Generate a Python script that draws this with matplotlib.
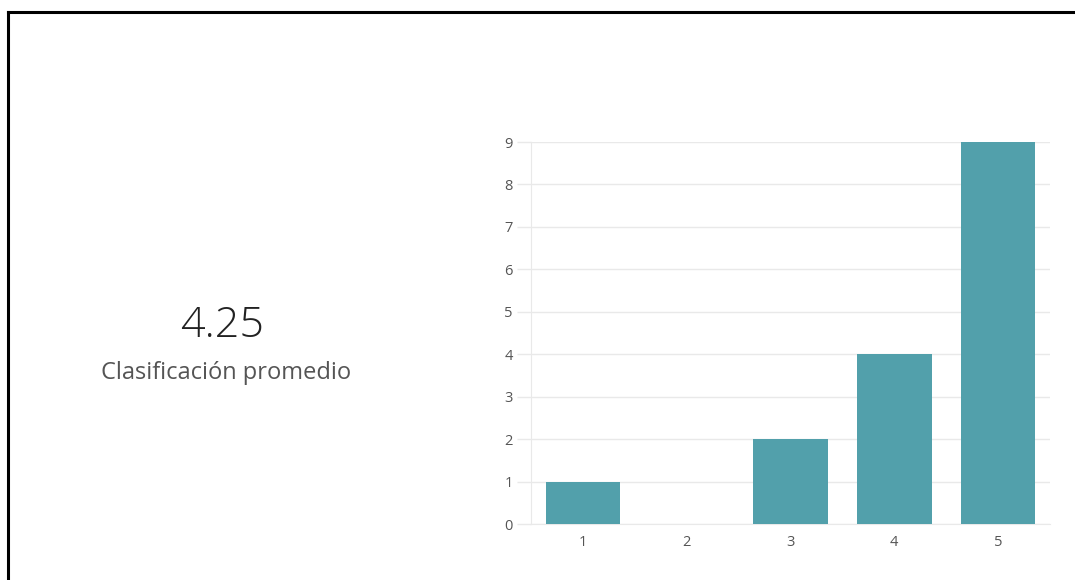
# Rating distribution chart with average score on the left
import matplotlib
matplotlib.use('Agg')
import matplotlib.pyplot as plt
from matplotlib.lines import Line2D

# Data
ratings = [1, 2, 3, 4, 5]
counts = [1, 0, 2, 4, 9]
y_ticks = list(range(0, 10))
average = 4.25
avg_label = 'Clasificación promedio'

BAR_COLOR = '#52a0ab'
GRID_COLOR = '#e9e9e9'
TEXT_COLOR = '#555555'

plt.rcParams['font.family'] = ['Open Sans', 'DejaVu Sans']

fig = plt.figure(figsize=(10.75, 5.8), dpi=100)

# black frame (top and left only, like the screenshot)
fig.add_artist(Line2D([8 / 1075, 8 / 1075], [0, 1 - 12 / 580], color='black', linewidth=2.2,
                      transform=fig.transFigure))
fig.add_artist(Line2D([8 / 1075, 1], [1 - 12 / 580, 1 - 12 / 580], color='black', linewidth=2.2,
                      transform=fig.transFigure))

# average text
fig.text(222 / 1075, 1 - 326 / 580, f'{average:.2f}', ha='center', va='center',
         fontsize=31, color='#222222', fontweight='light')
fig.text(226 / 1075, 1 - 373 / 580, avg_label, ha='center', va='center',
         fontsize=17, color=TEXT_COLOR)

# bar chart
ax = fig.add_axes([531 / 1075, 1 - 524 / 580, (1050 - 531) / 1075, (524 - 142) / 580])
ax.bar(ratings, counts, width=0.72, color=BAR_COLOR, zorder=3)

ax.set_xlim(0.5, 5.5)
ax.set_ylim(0, 9)
ax.set_xticks(ratings)
ax.set_yticks(y_ticks)
ax.yaxis.grid(True, color=GRID_COLOR, linewidth=1, zorder=0)
ax.set_axisbelow(True)

for side in ['top', 'right']:
    ax.spines[side].set_visible(False)
ax.spines['left'].set_color(GRID_COLOR)
ax.spines['bottom'].set_color(GRID_COLOR)

ax.tick_params(axis='y', length=10, width=1, color=GRID_COLOR, pad=3,
               labelsize=10.5, labelcolor=TEXT_COLOR)
ax.tick_params(axis='x', length=0, pad=8, labelsize=10.5, labelcolor=TEXT_COLOR)

plt.savefig('out.png', dpi=100)
plt.close()
